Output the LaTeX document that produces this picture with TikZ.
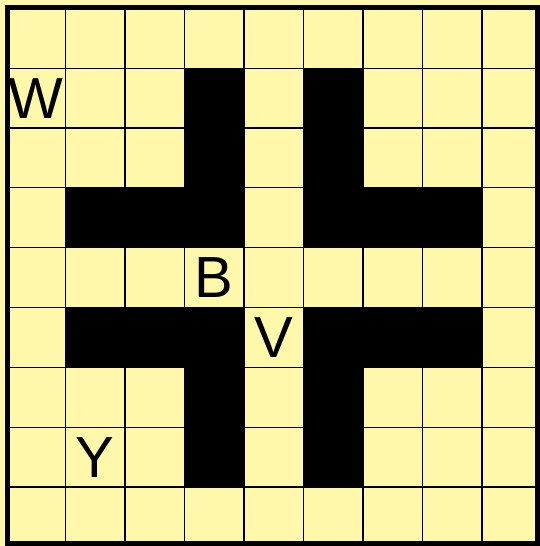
\documentclass[tikz,border=0pt]{standalone}
\usepackage{fontspec}
\setmainfont{Liberation Sans}
\definecolor{cellyellow}{RGB}{255,248,170}
\begin{document}
\begin{tikzpicture}[x=1pt,y=-1pt,
  blackcell/.style={fill=black,draw=none},
  gridline/.style={draw=black,line width=1.2pt},
  outerframe/.style={draw=black,line width=5pt},
  letter/.style={inner sep=0pt,font=\fontsize{58}{58}\selectfont}]
\def\cw{59.5}
\def\ch{59.83}
\def\ox{5.9}
\def\oy{8.4}
\useasboundingbox (0,0) rectangle (540,546);
\fill[cellyellow] (0,0) rectangle (540,546);
% black cells
\foreach \c/\r in {3/1,3/2,3/3,1/3,2/3,5/1,5/2,5/3,6/3,7/3,1/5,2/5,3/5,3/6,3/7,5/5,6/5,7/5,5/6,5/7}{
  \path[blackcell] ({\ox+\c*\cw},{\oy+\r*\ch}) rectangle ({\ox+(\c+1)*\cw},{\oy+(\r+1)*\ch});
}
% thin grid lines
\foreach \k in {1,...,8}{
  \path[gridline] ({\ox+\k*\cw},\oy) -- ({\ox+\k*\cw},{\oy+9*\ch});
  \path[gridline] (\ox,{\oy+\k*\ch}) -- ({\ox+9*\cw},{\oy+\k*\ch});
}
% letters
\node[letter] (w) at ({\ox+0.5*\cw},{\oy+1.5*\ch}) {W};
\node[letter] (b) at ({\ox+3.5*\cw},{\oy+4.5*\ch}) {B};
\node[letter] (v) at ({\ox+4.5*\cw},{\oy+5.5*\ch}) {V};
\node[letter] (y) at ({\ox+1.5*\cw},{\oy+7.5*\ch}) {Y};
% outer frame
\path[outerframe] (7.7,7.8) rectangle (537.8,543.4);
\end{tikzpicture}
\end{document}
